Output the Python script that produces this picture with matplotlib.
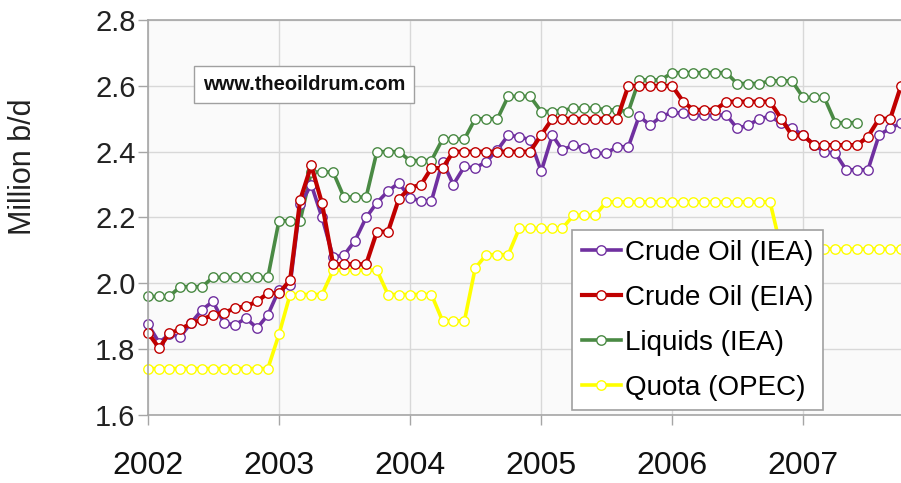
import matplotlib
matplotlib.use("Agg")
import matplotlib.pyplot as plt
import pandas as pd

plt.rcParams['font.family'] = ['Liberation Sans', 'DejaVu Sans']

# monthly series, Jan 2002 onwards
months = pd.date_range('2002-01-01', periods=70, freq='MS')

crude_iea = [1.875, 1.82, 1.845, 1.838, 1.88, 1.92, 1.945, 1.879, 1.874, 1.894, 1.864, 1.904,
             1.98, 1.995, 2.24, 2.30, 2.20, 2.08, 2.085, 2.13, 2.20, 2.245, 2.28, 2.305,
             2.26, 2.25, 2.25, 2.37, 2.30, 2.355, 2.35, 2.37, 2.405, 2.45, 2.445, 2.436,
             2.34, 2.45, 2.405, 2.42, 2.41, 2.395, 2.395, 2.415, 2.415, 2.508, 2.48, 2.507,
             2.519, 2.517, 2.51, 2.51, 2.51, 2.512, 2.471, 2.48, 2.50, 2.507, 2.487, 2.471,
             2.451, 2.42, 2.40, 2.395, 2.345, 2.345, 2.345, 2.451, 2.471, 2.487]

crude_eia = [1.85, 1.803, 1.848, 1.86, 1.879, 1.89, 1.905, 1.91, 1.925, 1.93, 1.945, 1.97,
             1.97, 2.01, 2.253, 2.358, 2.243, 2.058, 2.058, 2.058, 2.058, 2.157, 2.157, 2.256,
             2.29, 2.30, 2.35, 2.35, 2.40, 2.40, 2.40, 2.40, 2.40, 2.40, 2.40, 2.40,
             2.451, 2.50, 2.50, 2.50, 2.50, 2.50, 2.50, 2.50, 2.60, 2.60, 2.60, 2.60,
             2.60, 2.552, 2.527, 2.527, 2.527, 2.552, 2.552, 2.552, 2.552, 2.552, 2.50, 2.45,
             2.45, 2.42, 2.42, 2.42, 2.42, 2.42, 2.446, 2.50, 2.50, 2.60]

liquids_iea = [1.96, 1.96, 1.96, 1.99, 1.99, 1.99, 2.018, 2.018, 2.018, 2.018, 2.018, 2.018,
               2.19, 2.19, 2.19, 2.338, 2.338, 2.338, 2.262, 2.262, 2.262, 2.40, 2.40, 2.40,
               2.373, 2.373, 2.373, 2.438, 2.438, 2.438, 2.50, 2.50, 2.50, 2.568, 2.568, 2.568,
               2.522, 2.522, 2.525, 2.532, 2.532, 2.532, 2.527, 2.527, 2.522, 2.618, 2.618, 2.618,
               2.64, 2.64, 2.64, 2.64, 2.64, 2.64, 2.607, 2.607, 2.607, 2.615, 2.615, 2.615,
               2.565, 2.565, 2.565, 2.488, 2.488, 2.488]

quota_opec = [1.741, 1.741, 1.741, 1.741, 1.741, 1.741, 1.741, 1.741, 1.741, 1.741, 1.741, 1.741,
              1.845, 1.966, 1.966, 1.966, 1.966, 2.04, 2.04, 2.04, 2.04, 2.04, 1.966, 1.966,
              1.966, 1.966, 1.966, 1.886, 1.886, 1.886, 2.046, 2.087, 2.087, 2.087, 2.167, 2.167,
              2.167, 2.167, 2.167, 2.207, 2.207, 2.207, 2.247, 2.247, 2.247, 2.247, 2.247, 2.247,
              2.247, 2.247, 2.247, 2.247, 2.247, 2.247, 2.247, 2.247, 2.247, 2.247, 2.104, 2.104,
              2.104, 2.104, 2.104, 2.104, 2.104, 2.104, 2.104, 2.104, 2.104, 2.104]

year_ticks = ['2002', '2003', '2004', '2005', '2006', '2007']
y_ticks = [1.6, 1.8, 2.0, 2.2, 2.4, 2.6, 2.8]

fig = plt.figure(figsize=(9.01, 4.83), dpi=100)
ax = fig.add_axes([0.1643, 0.1408, 0.8357, 0.8178])
ax.set_facecolor('#fafafa')

style = dict(marker='o', markersize=6.8, markerfacecolor='white', markeredgewidth=1.0, clip_on=False)
l_quota, = ax.plot(months, quota_opec, color='#ffff00', lw=2.6, label='Quota (OPEC)', **style)
l_liq, = ax.plot(months[:len(liquids_iea)], liquids_iea, color='#4a8a44', lw=2.6, label='Liquids (IEA)', **style)
l_iea, = ax.plot(months, crude_iea, color='#7030a0', lw=2.6, label='Crude Oil (IEA)', **style)
l_eia, = ax.plot(months, crude_eia, color='#c00000', lw=3.0, label='Crude Oil (EIA)', **style)

ax.set_xlim(pd.Timestamp('2002-01-01'), pd.Timestamp('2007-10-01'))
ax.set_ylim(1.6, 2.8)
ax.set_yticks(y_ticks)
ax.set_yticklabels(['%.1f' % v for v in y_ticks], fontsize=21, color='#222222')
ax.set_xticks([pd.Timestamp(y + '-01-01') for y in year_ticks])
ax.set_xticklabels(year_ticks, fontsize=23, color='#111111')

ax.grid(True, color='#d8d8d8', lw=1.0)
ax.set_axisbelow(True)
for s in ['left', 'bottom', 'top']:
    ax.spines[s].set_color('#a6a6a6')
    ax.spines[s].set_linewidth(1.2)
ax.spines['right'].set_visible(False)
ax.tick_params(axis='y', length=7, width=1, color='#a6a6a6', pad=2)
ax.tick_params(axis='x', length=7, width=1, color='#a6a6a6', pad=19)

fig.text(23 / 901, 1 - 167 / 483, 'Million b/d', rotation=90, ha='center', va='center',
         fontsize=22, color='#222222')

ax.text(0.207, 0.836, 'www.theoildrum.com', transform=ax.transAxes, ha='center', va='center',
        fontsize=14.5, fontweight='bold', color='#111111',
        bbox=dict(boxstyle='square,pad=0.45', fc='white', ec='#a0a0a0', lw=1))

leg = ax.legend(handles=[l_iea, l_eia, l_liq, l_quota], loc='upper left',
                bbox_to_anchor=(0.563, 0.468), fontsize=20, frameon=True, fancybox=False,
                handlelength=1.4, handletextpad=0.15, labelspacing=0.68, borderpad=0.35,
                borderaxespad=0)
leg.get_frame().set_edgecolor('#a0a0a0')
leg.get_frame().set_linewidth(1.2)
leg.get_frame().set_alpha(1)

fig.savefig('out.png', dpi=100)
